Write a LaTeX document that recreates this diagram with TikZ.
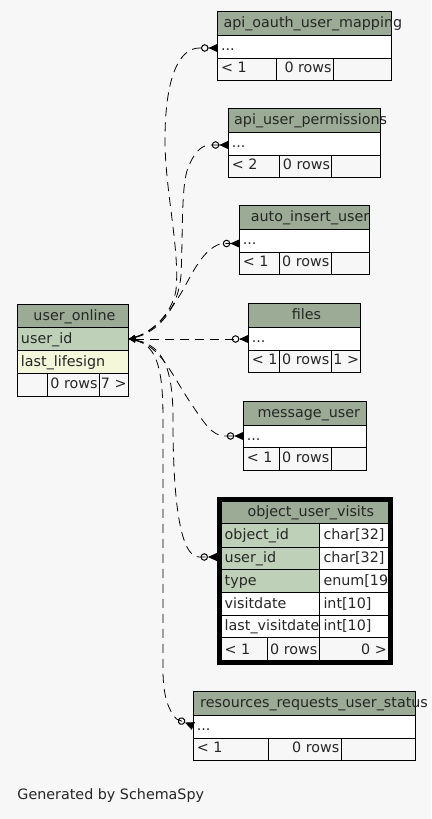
\documentclass[tikz,border=0pt]{standalone}
\usepackage{fontspec}
\newfontfamily\tabfont{DejaVu Sans}
\usetikzlibrary{arrows.meta}
\definecolor{bgc}{HTML}{F7F7F7}
\definecolor{hdrc}{HTML}{9BAB96}
\definecolor{pkc}{HTML}{BED1B8}
\definecolor{ixc}{HTML}{F4F7DA}
\newcommand{\tf}{\tabfont\fontsize{14.3bp}{17bp}\selectfont}
% #1 id, #2 left, #3 right, #4 top, #5 title x, #6 title, #7 div1, #8 div2, #9 footer-left
\newcommand{\dottab}[9]{%
  \fill[hdrc] (#2,#4) rectangle (#3,#4+24);
  \fill[white] (#2,#4+24) rectangle (#3,#4+46.7);
  \draw[cell] (#2,#4) rectangle (#3,#4+69.2);
  \draw[cell] (#2,#4+24) -- (#3,#4+24) (#2,#4+46.7) -- (#3,#4+46.7)
     (#7,#4+46.7) -- (#7,#4+69.2) (#8,#4+46.7) -- (#8,#4+69.2);
  \node[t] (#1-title) at (#5,#4+16) {#6};
  \node[t] (#1-row) at (#2+3.3,#4+39) {...};
  \node[t] (#1-lo) at (#2+3.3,#4+61.2) {#9};
  \node[tr] (#1-rows) at (#8-1.5,#4+61.2) {0 rows};
}
\begin{document}
\begin{tikzpicture}[x=1bp,y=-1bp,
  cell/.style={draw=black, line width=1bp},
  t/.style={anchor=base west, inner sep=0pt, font=\tf, text=black!85},
  tr/.style={anchor=base east, inner sep=0pt, font=\tf, text=black!85},
  fk/.style={draw=black, line width=0.8bp, dash pattern=on 9bp off 6bp,
    arrows={{Latex[length=7bp,width=5bp]}-{Circle[open,length=7.5bp,width=7.5bp,line width=1bp] Triangle[reversed,length=9bp,width=8bp]}}},
]
\fill[bgc] (0,0) rectangle (431,819);
\useasboundingbox (0,0) rectangle (431,819);

% user_online
\fill[hdrc] (17.5,304) rectangle (128.5,327.7);
\fill[pkc] (17.5,327.7) rectangle (128.5,350);
\fill[ixc] (17.5,350) rectangle (128.5,373.3);
\draw[cell] (17.5,304) rectangle (128.5,396);
\draw[cell] (17.5,327.7) -- (128.5,327.7) (17.5,350) -- (128.5,350) (17.5,373.3) -- (128.5,373.3)
  (47.7,373.3) -- (47.7,396) (99.3,373.3) -- (99.3,396);
\node[t] (uo-title) at (33.3,320) {user\_online};
\node[t] (uo-uid) at (20.8,343.3) {user\_id};
\node[t] (uo-ll) at (20.8,366) {last\_lifesign};
\node[tr] (uo-rows) at (97.8,388.5) {0 rows};
\node[tr] (uo-ch) at (126.8,388.5) {7 >};
\coordinate (uo-port) at (128.5,339);

% simple tables
\dottab{aoum}{217.5}{391.5}{11.5}{223.3}{api\_oauth\_user\_mapping}{276.7}{333.3}{< 1}
\coordinate (aoum-port) at (217.5,48);
\dottab{aup}{228.3}{380.7}{108.3}{234}{api\_user\_permissions}{279.3}{331.7}{< 2}
\coordinate (aup-port) at (228.3,145);
\dottab{aiu}{239.3}{369.3}{205.7}{250.7}{auto\_insert\_user}{279.3}{331}{< 1}
\coordinate (aiu-port) at (239.3,243.5);
\dottab{fil}{248.3}{360.7}{303.3}{291.7}{files}{279.3}{331}{< 1}
\node[tr] (fil-ch) at (359.2,364.5) {1 >};
\coordinate (fil-port) at (248.3,339);
\dottab{mu}{243.3}{366}{401}{257.3}{message\_user}{279.3}{331}{< 1}
\coordinate (mu-port) at (243.3,436);
\dottab{rrus}{193.3}{415.7}{691.7}{200}{resources\_requests\_user\_status}{268.3}{341}{< 1}
\coordinate (rrus-port) at (193.3,726);

% object_user_visits
\fill[hdrc] (219.5,499.5) rectangle (390.5,523);
\fill[pkc] (219.5,523) rectangle (319,592);
\fill[white] (319,523) rectangle (390.5,592);
\fill[white] (219.5,592) rectangle (390.5,637);
\draw[cell] (219.5,523) -- (390.5,523) (219.5,547) -- (390.5,547) (219.5,569) -- (390.5,569)
  (219.5,592) -- (390.5,592) (219.5,615) -- (390.5,615) (219.5,637) -- (390.5,637)
  (319,523) -- (319,662.5) (267,637) -- (267,662.5);
\node[t] (ouv-title) at (247.3,516) {object\_user\_visits};
\node[t] (ouv-r1) at (224.5,539.5) {object\_id};
\node[t] (ouv-t1) at (323.3,539.5) {char[32]};
\node[t] (ouv-r2) at (224.5,562.3) {user\_id};
\node[t] (ouv-t2) at (323.3,562.3) {char[32]};
\node[t] (ouv-r3) at (224.5,585) {type};
\node[t] (ouv-t3) at (323.3,585) {enum[19]};
\node[t] (ouv-r4) at (224.5,608) {visitdate};
\node[t] (ouv-t4) at (323.3,608) {int[10]};
\node[t] (ouv-r5) at (224.5,630.5) {last\_visitdate};
\node[t] (ouv-t5) at (323.3,630.5) {int[10]};
\node[t] (ouv-lo) at (224.5,654) {< 1};
\node[tr] (ouv-rows) at (317.5,654) {0 rows};
\node[tr] (ouv-ch) at (387,654) {0 >};
\draw[black, line width=5bp] (219.5,499.5) rectangle (390.5,662.5);
\coordinate (ouv-port) at (217,557);

% connectors
\draw[fk] (uo-port) .. controls (150,333) and (172,315) .. (176,290)
  .. controls (180,250) and (165,190) .. (165,140)
  .. controls (165,80) and (178,48) .. (199.5,48) -- (aoum-port);
\draw[fk] (uo-port) .. controls (155,333) and (178,312) .. (181,275)
  .. controls (183,235) and (181,185) .. (188,168)
  .. controls (193,155) and (200,145) .. (210.3,145) -- (aup-port);
\draw[fk] (uo-port) .. controls (150,333) and (163,322) .. (178,298)
  .. controls (190,280) and (200,250) .. (221.3,243.5) -- (aiu-port);
\draw[fk] (uo-port) -- (fil-port);
\draw[fk] (uo-port) .. controls (160,345) and (172,375) .. (190,402)
  .. controls (205,424) and (212,436) .. (225.3,436) -- (mu-port);
\draw[fk] (uo-port) .. controls (165,345) and (173,372) .. (173,420)
  .. controls (173,500) and (180,557) .. (199,557) -- (ouv-port);
\draw[fk] (uo-port) .. controls (158,345) and (163,372) .. (163,420) -- (163,670)
  .. controls (163,695) and (168,710) .. (176.5,719) -- (rrus-port);

\node[t] (gen) at (17.3,799) {Generated by SchemaSpy};
\end{tikzpicture}
\end{document}
